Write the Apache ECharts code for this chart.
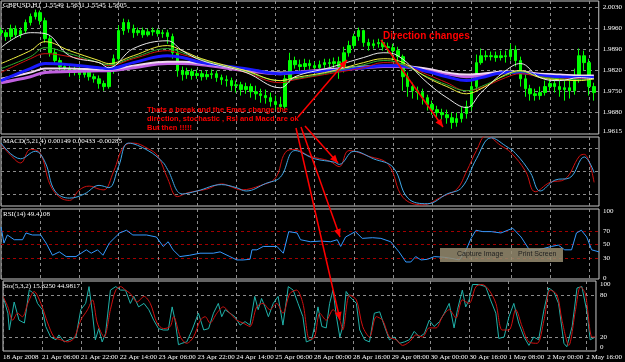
<!DOCTYPE html>
<html><head><meta charset="utf-8">
<script src="https://cdn.jsdelivr.net/npm/echarts@6/dist/echarts.min.js"></script>
<style>html,body{margin:0;padding:0;background:#000}#c{width:625px;height:362px}</style>
</head><body><div id="c"></div><script>
// ---------- data ----------
const tickLabels = ['18 Apr 2008','21 Apr 06:00','21 Apr 22:00','22 Apr 14:00','23 Apr 06:00','23 Apr 22:00','24 Apr 14:00','25 Apr 06:00','28 Apr 00:00','28 Apr 16:00','29 Apr 08:00','30 Apr 00:00','30 Apr 16:00','1 May 08:00','2 May 00:00','2 May 16:00'];
const priceTicks = [1.9615,1.9680,1.9750,1.9820,1.9890,1.9960,2.0030];
const macdTickText = ['-0.00931','-0.0061','0.00','0.0061','0.00912'];
const rsiTicks = [0,30,50,70,100];
const rsiLevels = [30,50,70];
const stoTicks = [0,20,80,100];
const stoLevels = [20,80];
// [open, close, low, high] per 2-hour bar
const ohlc = [
[1.9952,1.9945,1.9935,1.9962],[1.9945,1.9932,1.9918,1.9955],[1.9932,1.9958,1.9922,1.9972],[1.9958,1.9938,1.9928,1.9969],
[1.9938,1.9952,1.9928,1.9962],[1.9952,1.9979,1.9942,1.9989],[1.9979,1.9999,1.9969,2.0009],[1.9999,2.0012,1.9989,2.0022],
[2.0012,1.9985,1.9972,2.0019],[1.9985,1.9925,1.9912,1.9995],[1.9925,1.9878,1.9865,1.9935],[1.9878,1.9852,1.9838,1.9892],
[1.9852,1.9832,1.9818,1.9862],[1.9832,1.9825,1.9812,1.9842],[1.9825,1.9812,1.9798,1.9835],[1.9812,1.9822,1.9802,1.9832],
[1.9822,1.9805,1.9791,1.9832],[1.9805,1.9815,1.9795,1.9825],[1.9815,1.9798,1.9785,1.9825],[1.9798,1.9791,1.9778,1.9808],
[1.9791,1.9775,1.9758,1.9802],[1.9775,1.9765,1.9751,1.9785],[1.9765,1.9818,1.9758,1.9832],[1.9818,1.9858,1.9808,1.9872],
[1.9858,1.9952,1.9852,1.9969],[1.9952,1.9979,1.9938,1.9992],[1.9979,1.9958,1.9945,1.9989],[1.9958,1.9945,1.9928,1.9972],
[1.9945,1.9952,1.9935,1.9962],[1.9952,1.9938,1.9928,1.9962],[1.9938,1.9948,1.9932,1.9958],[1.9948,1.9952,1.9935,1.9962],
[1.9952,1.9942,1.9932,1.9958],[1.9942,1.9945,1.9928,1.9955],[1.9945,1.9932,1.9908,1.9955],[1.9932,1.9878,1.9858,1.9942],
[1.9878,1.9818,1.9798,1.9892],[1.9818,1.9805,1.9785,1.9832],[1.9805,1.9815,1.9791,1.9828],[1.9815,1.9802,1.9788,1.9825],
[1.9802,1.9808,1.9791,1.9822],[1.9808,1.9798,1.9785,1.9818],[1.9798,1.9805,1.9788,1.9818],[1.9805,1.9808,1.9791,1.9822],
[1.9808,1.9795,1.9781,1.9818],[1.9795,1.9788,1.9771,1.9805],[1.9788,1.9785,1.9765,1.9802],[1.9785,1.9768,1.9751,1.9795],
[1.9768,1.9771,1.9745,1.9785],[1.9771,1.9755,1.9735,1.9781],[1.9755,1.9765,1.9741,1.9778],[1.9765,1.9748,1.9728,1.9775],
[1.9748,1.9741,1.9721,1.9768],[1.9741,1.9735,1.9711,1.9758],[1.9735,1.9728,1.9708,1.9755],[1.9728,1.9715,1.9698,1.9745],
[1.9715,1.9705,1.9688,1.9735],[1.9705,1.9698,1.9681,1.9731],[1.9698,1.9791,1.9691,1.9805],[1.9791,1.9852,1.9778,1.9878],
[1.9852,1.9838,1.9825,1.9865],[1.9838,1.9832,1.9815,1.9855],[1.9832,1.9842,1.9818,1.9858],[1.9842,1.9835,1.9822,1.9855],
[1.9835,1.9828,1.9815,1.9848],[1.9828,1.9838,1.9818,1.9852],[1.9838,1.9845,1.9825,1.9858],[1.9845,1.9842,1.9828,1.9858],
[1.9842,1.9848,1.9825,1.9862],[1.9848,1.9832,1.9791,1.9865],[1.9832,1.9878,1.9812,1.9898],[1.9878,1.9902,1.9865,1.9918],
[1.9902,1.9932,1.9892,1.9942],[1.9932,1.9952,1.9918,1.9962],[1.9952,1.9912,1.9898,1.9955],[1.9912,1.9902,1.9885,1.9925],
[1.9902,1.9908,1.9892,1.9922],[1.9908,1.9912,1.9895,1.9925],[1.9912,1.9898,1.9885,1.9922],[1.9898,1.9895,1.9878,1.9912],
[1.9895,1.9885,1.9852,1.9908],[1.9885,1.9865,1.9832,1.9898],[1.9865,1.9798,1.9751,1.9872],[1.9798,1.9765,1.9731,1.9812],
[1.9765,1.9751,1.9725,1.9778],[1.9751,1.9745,1.9721,1.9765],[1.9745,1.9728,1.9705,1.9758],[1.9728,1.9705,1.9685,1.9738],
[1.9705,1.9688,1.9671,1.9718],[1.9688,1.9678,1.9661,1.9701],[1.9678,1.9671,1.9655,1.9691],[1.9671,1.9661,1.9641,1.9688],
[1.9661,1.9645,1.9624,1.9678],[1.9645,1.9658,1.9631,1.9678],[1.9658,1.9675,1.9645,1.9698],[1.9675,1.9698,1.9658,1.9718],
[1.9698,1.9765,1.9685,1.9798],[1.9765,1.9845,1.9751,1.9872],[1.9845,1.9868,1.9838,1.9892],[1.9868,1.9865,1.9852,1.9885],
[1.9865,1.9868,1.9852,1.9882],[1.9868,1.9862,1.9848,1.9882],[1.9862,1.9868,1.9852,1.9885],[1.9868,1.9865,1.9845,1.9885],
[1.9865,1.9888,1.9852,1.9908],[1.9888,1.9852,1.9832,1.9902],[1.9852,1.9791,1.9765,1.9865],[1.9791,1.9758,1.9731,1.9805],
[1.9758,1.9741,1.9718,1.9771],[1.9741,1.9735,1.9718,1.9758],[1.9735,1.9745,1.9721,1.9765],[1.9745,1.9765,1.9735,1.9785],
[1.9765,1.9775,1.9751,1.9795],[1.9775,1.9765,1.9745,1.9791],[1.9765,1.9755,1.9731,1.9785],[1.9755,1.9761,1.9718,1.9785],
[1.9761,1.9751,1.9725,1.9791],[1.9751,1.9791,1.9738,1.9825],[1.9791,1.9868,1.9778,1.9892],[1.9868,1.9845,1.9818,1.9885],
[1.9845,1.9765,1.9735,1.9858],[1.9765,1.9745,1.9718,1.9778]
];
// moving averages, read at these bar positions
const maIdx    = [0,6,9,14,20,22,27,34,37,41,50,57,60,67,74,78,81,87,91,95,98,103,106,110,114,118,121];
const maWhite  = [1.9895,1.9945,1.9942,1.9868,1.9845,1.9828,1.9892,1.9918,1.9885,1.9852,1.9812,1.9761,1.9798,1.9828,1.9862,1.9878,1.9868,1.9778,1.9728,1.9695,1.9745,1.9818,1.9842,1.9795,1.9785,1.9795,1.9791];
const maYellow = [1.9842,1.9885,1.9915,1.9885,1.9852,1.9842,1.9868,1.9902,1.9885,1.9858,1.9818,1.9785,1.9795,1.9815,1.9845,1.9858,1.9852,1.9795,1.9765,1.9741,1.9758,1.9805,1.9818,1.9795,1.9788,1.9785,1.9791];
const maGreen  = [1.9825,1.9865,1.9895,1.9875,1.9845,1.9838,1.9862,1.9892,1.9878,1.9855,1.9815,1.9785,1.9791,1.9812,1.9838,1.9852,1.9845,1.9798,1.9771,1.9751,1.9765,1.9802,1.9815,1.9798,1.9791,1.9788,1.9791];
const maRed    = [1.9812,1.9858,1.9875,1.9865,1.9845,1.9835,1.9858,1.9885,1.9872,1.9855,1.9812,1.9778,1.9788,1.9808,1.9828,1.9845,1.9842,1.9805,1.9778,1.9751,1.9761,1.9795,1.9808,1.9798,1.9791,1.9791,1.9791];
const maBlue   = [1.9785,1.9825,1.9842,1.9838,1.9828,1.9825,1.9845,1.9868,1.9862,1.9845,1.9825,1.9808,1.9812,1.9818,1.9828,1.9835,1.9835,1.9815,1.9798,1.9785,1.9795,1.9812,1.9812,1.9802,1.9798,1.9795,1.9795];
const maLight  = [1.9791,1.9812,1.9825,1.9825,1.9822,1.9822,1.9835,1.9848,1.9848,1.9842,1.9822,1.9812,1.9812,1.9822,1.9832,1.9835,1.9835,1.9825,1.9812,1.9805,1.9808,1.9815,1.9815,1.9808,1.9805,1.9802,1.9802];
const maViolet = [1.9778,1.9798,1.9812,1.9815,1.9818,1.9818,1.9828,1.9842,1.9842,1.9838,1.9818,1.9808,1.9812,1.9822,1.9828,1.9832,1.9832,1.9818,1.9808,1.9798,1.9802,1.9812,1.9812,1.9805,1.9802,1.9798,1.9798];
// MACD pairs [bar, value]
const macdBlue = [[0,0.0075],[4,0.0033],[7,0.0053],[9,0.0024],[11,-0.0053],[14,-0.0072],[17,-0.0061],[20,-0.0038],[22,-0.0044],[24,0.0013],[26,0.0075],[30,0.0055],[33,0.0024],[34,0.0004],[37,-0.0061],[40,-0.0053],[45,-0.0036],[48,-0.0044],[50,-0.0053],[54,-0.0033],[57,-0.0016],[60,0.0055],[64,0.0033],[68,0.0024],[69,0.0018],[72,0.0053],[76,0.0033],[80,0.0010],[83,-0.0072],[87,-0.0087],[91,-0.0061],[94,-0.0044],[97,0.0033],[100,0.0089],[103,0.0067],[105,0.0047],[108,-0.0004],[110,-0.0053],[113,-0.0024],[116,-0.0018],[119,0.0038],[121,-0.0004]];
const macdRed = [[0,0.0072],[2,0.0042],[4,0.0022],[6,0.0058],[8,0.0048],[10,-0.0036],[12,-0.0070],[14,-0.0078],[16,-0.0050],[18,-0.0040],[20,-0.0048],[21,-0.0050],[23,0.0000],[25,0.0065],[27,0.0075],[30,0.0060],[32,0.0040],[34,-0.0020],[36,-0.0068],[38,-0.0058],[42,-0.0048],[45,-0.0034],[47,-0.0042],[49,-0.0050],[53,-0.0038],[56,-0.0018],[58,0.0050],[60,0.0058],[63,0.0040],[67,0.0027],[69,0.0012],[71,0.0055],[75,0.0040],[79,0.0018],[82,-0.0070],[86,-0.0090],[90,-0.0068],[93,-0.0048],[95,0.0000],[97,0.0055],[99,0.0095],[102,0.0068],[104,0.0050],[107,0.0000],[109,-0.0055],[112,-0.0030],[115,-0.0022],[118,0.0040],[119,0.0045],[121,-0.0030]];
// RSI(14) pairs
const rsi = [[0,76],[0.6,52],[1.3,64],[2.7,57],[4.4,57],[5.1,67],[6.4,64],[8.1,64],[9.2,52],[10.5,34],[11.9,39],[13.3,32],[15.3,32],[17.4,42],[18.4,37],[19.7,42],[20.8,34],[22.1,52],[24.2,67],[25.6,71],[26.9,64],[29.7,64],[31.7,61],[33.1,47],[34.1,54],[35.1,42],[36.5,32],[38.5,34],[40.6,37],[43.3,37],[44.7,39],[46.7,32],[48.1,27],[49.4,27],[50.8,28],[51.2,42],[52.2,42],[53.5,47],[56.3,47],[57.6,37],[58.7,69],[60.4,67],[61.1,57],[63.1,54],[65.2,55],[67.2,54],[68.6,57],[69.3,47],[70.3,61],[72.3,69],[73.7,59],[75.8,60],[77.5,59],[79.5,54],[81.2,39],[82.6,24],[83.6,24],[84.6,32],[85.7,27],[87,28],[88.4,32],[90.4,31],[92.2,29],[93.5,27],[94.9,42],[95.9,59],[96.9,71],[98.3,69],[100,69],[102,67],[104.4,74],[106.1,61],[107.8,42],[109.6,42],[112.3,47],[113.7,49],[115,42],[116.4,42],[117.4,67],[118.4,71],[119.5,61],[120.5,42],[122,39]];
// Stochastic(5,3,2) %K and %D pairs
const stoK = [[0,78],[1,54],[1.3,30],[2.3,70],[3.3,44],[4.4,40],[5.4,87],[6.4,82],[7.1,68],[8.1,59],[8.8,35],[9.8,20],[10.9,16],[11.5,23],[12.6,13],[13.6,16],[15,20],[16,59],[17,68],[17.7,92],[18.4,54],[19,16],[19.7,32],[20.4,13],[21.1,25],[22.1,87],[23.2,92],[24.2,87],[25.2,87],[26.2,68],[26.9,78],[27.9,63],[29,68],[30,59],[31,44],[32,32],[33,30],[34,30],[34.8,63],[35.4,44],[36.1,9],[36.8,11],[37.8,13],[38.9,30],[40.2,54],[41.3,30],[42.3,32],[43.3,54],[44.3,68],[45,49],[45.7,59],[46.7,54],[47.7,49],[48.8,37],[49.8,42],[50.8,37],[51.8,78],[52.5,59],[53.2,75],[53.9,63],[54.6,49],[55.6,68],[56.6,78],[57.6,37],[58.7,92],[59.7,87],[60.7,68],[61.7,49],[62.4,13],[63.5,16],[64.1,35],[64.8,63],[65.6,35],[66.5,33],[67.2,68],[67.9,87],[68.6,49],[69.3,20],[69.9,35],[70.6,85],[71.3,78],[72.7,68],[73.4,30],[74.4,16],[75.4,13],[76.4,54],[77.5,56],[78.5,35],[79.5,16],[80.5,20],[81.6,11],[82.6,13],[83.6,16],[84.6,28],[85.7,20],[86.7,25],[87.7,44],[88.7,35],[89.8,42],[90.8,54],[91.8,68],[92.8,33],[93.5,59],[94.5,87],[95.2,63],[95.9,73],[96.6,95],[97.9,95],[99.3,92],[100.3,73],[101.4,54],[102,18],[103.1,20],[104.1,49],[105.1,68],[106.1,40],[107.2,20],[108.2,8],[109.2,20],[110.2,16],[111.3,59],[112.3,90],[113.3,85],[114.3,68],[115.4,11],[116,6],[117.1,35],[118.1,90],[119.1,92],[120.2,54],[120.8,16],[121.9,20]];
const stoD = [[0,78],[1,63],[2,44],[3,54],[4,49],[5.1,68],[6.4,85],[7.8,68],[9.2,40],[10.5,20],[11.9,16],[13.3,13],[14.6,18],[16,44],[17.4,59],[18.4,73],[19.4,40],[20.8,20],[22.1,59],[23.2,87],[24.2,92],[25.2,87],[26.2,82],[27.6,70],[29,78],[30.3,68],[31.7,40],[33,32],[34.4,35],[35.1,49],[36.5,20],[37.8,11],[39.2,20],[40.6,44],[41.6,49],[42.6,40],[44,54],[45.3,63],[46.7,54],[48.1,44],[49.4,40],[50.8,35],[52.2,63],[53.5,68],[54.9,59],[56.3,68],[57.6,54],[59,82],[60.4,87],[61.7,68],[63.1,16],[64.1,20],[65.2,54],[66.5,44],[67.9,59],[69.3,44],[69.9,30],[71.3,80],[72.7,73],[74,35],[75.4,20],[76.8,49],[78.1,44],[79.5,20],[80.9,16],[82.2,8],[83.6,13],[85,23],[86.3,20],[87.7,33],[89.1,33],[90.4,49],[91.8,59],[93.2,47],[94.5,73],[95.9,68],[97.3,92],[98.6,95],[100,87],[101.4,68],[102.7,30],[104.1,30],[105.5,59],[106.8,35],[108.2,13],[109.9,11],[111.3,44],[112.6,87],[114,80],[115,44],[116.4,8],[117.8,59],[118.8,92],[119.8,82],[121.2,20],[121.9,20]];

// ---------- chart ----------
const NB = 123; // bar slots on the time axis
const categories = [];
for (let i = 0; i < NB; i++) categories.push(i % 8 === 0 ? (tickLabels[i / 8] || '') : '');
const F = 'Liberation Sans Narrow';
const gridLine = {show: true, lineStyle: {color: '#8c8c8c', type: [3, 3], width: 1}};
const grids = [
  {left: 1, top: 1, width: 598, height: 133},
  {left: 1, top: 137, width: 598, height: 69},
  {left: 1, top: 209, width: 598, height: 70},
  {left: 1, top: 281, width: 598, height: 70}
].map(g => Object.assign(g, {show: true, borderColor: '#c8c8c8', borderWidth: 1, containLabel: false}));

const xAxis = [];
for (let g = 0; g < 4; g++) {
  xAxis.push({type: 'category', gridIndex: g, data: categories, boundaryGap: false,
    axisLine: {show: false}, axisTick: {show: false},
    axisLabel: {show: g === 3, interval: 7, color: '#fff', fontSize: 7, fontFamily: F, align: 'left', margin: 3},
    splitLine: Object.assign({interval: 7}, gridLine)});
}
for (let g = 0; g < 4; g++) {
  xAxis.push({type: 'value', gridIndex: g, min: 0, max: NB - 1, show: false});
}
const yLab = {color: '#fff', fontSize: 7, fontFamily: F, margin: 4};
const yAxis = [
  {type: 'value', gridIndex: 0, position: 'right', min: 1.96066, max: 2.00509, scale: true,
   axisLine: {show: false}, axisTick: {show: false, customValues: priceTicks.slice(1)},
   axisLabel: Object.assign({customValues: priceTicks, formatter: v => v.toFixed(4)}, yLab), splitLine: gridLine},
  {type: 'value', gridIndex: 1, position: 'right', min: -0.00931, max: 0.00912,
   axisLine: {show: false}, axisTick: {show: false, customValues: [-0.0061, 0, 0.0061]},
   axisLabel: Object.assign({customValues: macdTickText.map(Number), formatter: (v, i) => macdTickText[i],
     verticalAlignMinLabel: 'bottom', verticalAlignMaxLabel: 'top'}, yLab), splitLine: gridLine},
  {type: 'value', gridIndex: 2, position: 'right', min: -1.2, max: 102.5,
   axisLine: {show: false}, axisTick: {show: false, customValues: rsiLevels},
   axisLabel: Object.assign({customValues: rsiTicks}, yLab),
   splitLine: {show: true, lineStyle: {color: '#a00000', type: [3, 3], width: 1}}},
  {type: 'value', gridIndex: 3, position: 'right', min: 0, max: 100,
   axisLine: {show: false}, axisTick: {show: false, customValues: stoLevels},
   axisLabel: Object.assign({customValues: stoTicks, verticalAlignMinLabel: 'bottom', verticalAlignMaxLabel: 'top'}, yLab),
   splitLine: gridLine}
];

const zip = (xs, ys) => xs.map((x, k) => [x, ys[k]]);
const line = (name, data, xi, yi, color, width, smooth) => ({
  name, type: 'line', data, xAxisIndex: xi, yAxisIndex: yi, showSymbol: false, symbol: 'none',
  smooth: smooth, lineStyle: {color, width}, silent: true, animation: false, z: 3});

const series = [
  {type: 'candlestick', data: ohlc, xAxisIndex: 0, yAxisIndex: 0, barWidth: 3, animation: false, z: 2,
   itemStyle: {color: '#00ff00', color0: '#00ff00', borderColor: '#00ff00', borderColor0: '#00ff00', borderWidth: 1}},
  line('violet', zip(maIdx, maViolet), 4, 0, '#c060e0', 3, 0.4),
  line('light', zip(maIdx, maLight), 4, 0, '#f0d8f0', 2, 0.4),
  line('blue', zip(maIdx, maBlue), 4, 0, '#1a1aff', 3, 0.4),
  line('red', zip(maIdx, maRed), 4, 0, '#d01010', 1, 0.4),
  line('green', zip(maIdx, maGreen), 4, 0, '#30b030', 1, 0.4),
  line('yellow', zip(maIdx, maYellow), 4, 0, '#f0f040', 1, 0.4),
  line('white', zip(maIdx, maWhite), 4, 0, '#e8e8e8', 1, 0.4),
  line('macdRed', macdRed, 5, 1, '#d01010', 1, 0.4),
  line('macdBlue', macdBlue, 5, 1, '#40a8e8', 1, 0.4),
  line('rsi', rsi, 6, 2, '#3399ff', 1, false),
  line('stoK', stoK, 7, 3, '#20b2aa', 1, false),
  line('stoD', stoD, 7, 3, '#d01010', 1, 0.3)
];

const tStyle = {color: '#fff', fontSize: 7, fontWeight: 'normal', fontFamily: F};
const title = [
  {text: 'GBPUSD,H1  1.5549 1.5631 1.5545 1.5605', left: 3, top: 2},
  {text: 'MACD(5,21,4) 0.00149 0.00433 -0.00285', left: 3, top: 138},
  {text: 'RSI(14) 49.4108', left: 3, top: 211},
  {text: 'Sto(5,3,2) 15.6250 44.9817', left: 3, top: 283}
].map(t => Object.assign(t, {padding: 0, textStyle: tStyle}));

// annotation arrows drawn on the screenshot: [x1, y1, x2, y2]
const arrows = [[298, 117, 347, 60], [381, 40, 443, 127], [305, 126, 338, 163], [301, 127, 340, 237], [296, 128, 340, 320]];
const graphic = [];
arrows.forEach(([x1, y1, x2, y2]) => {
  graphic.push({type: 'line', shape: {x1, y1, x2, y2}, style: {stroke: '#ff0000', lineWidth: 1.5}, z: 100});
  const a = Math.atan2(y2 - y1, x2 - x1), L = 8, W = 3.5;
  const bx = x2 - L * Math.cos(a), by = y2 - L * Math.sin(a);
  graphic.push({type: 'polygon', shape: {points: [[x2, y2], [bx + W * Math.sin(a), by - W * Math.cos(a)], [bx - W * Math.sin(a), by + W * Math.cos(a)]]},
    style: {fill: '#ff0000'}, z: 100});
});
const noteStyle = {fill: '#ff0000', font: 'bold 7.5px "Liberation Sans"'};
graphic.push({type: 'text', left: 147, top: 106, z: 101, style: Object.assign({text: 'Thats a break and the Emas change the'}, noteStyle)});
graphic.push({type: 'text', left: 147, top: 115, z: 101, style: Object.assign({text: 'direction, stochastic , Rsi and Macd are ok'}, noteStyle)});
graphic.push({type: 'text', left: 147, top: 124, z: 101, style: Object.assign({text: 'But then !!!!!'}, noteStyle)});
graphic.push({type: 'text', left: 383, top: 31, z: 101, style: {text: 'Direction changes', fill: '#ff0000', font: 'bold 10px "Liberation Sans"'}});
// "Capture Image / Print Screen" overlay
graphic.push({type: 'rect', shape: {x: 440, y: 248, width: 123, height: 14}, style: {fill: 'rgba(150,140,112,0.85)'}, z: 102});
graphic.push({type: 'text', left: 457, top: 251, z: 103, style: {text: 'Capture Image', fill: '#222', font: '7px "Liberation Sans"'}});
graphic.push({type: 'text', left: 518, top: 251, z: 103, style: {text: 'Print Screen', fill: '#222', font: '7px "Liberation Sans"'}});

const chart = echarts.init(document.getElementById('c'), null, {renderer: 'canvas'});
chart.setOption({backgroundColor: '#000', animation: false, grid: grids, xAxis, yAxis, series, title, graphic});
</script></body></html>
